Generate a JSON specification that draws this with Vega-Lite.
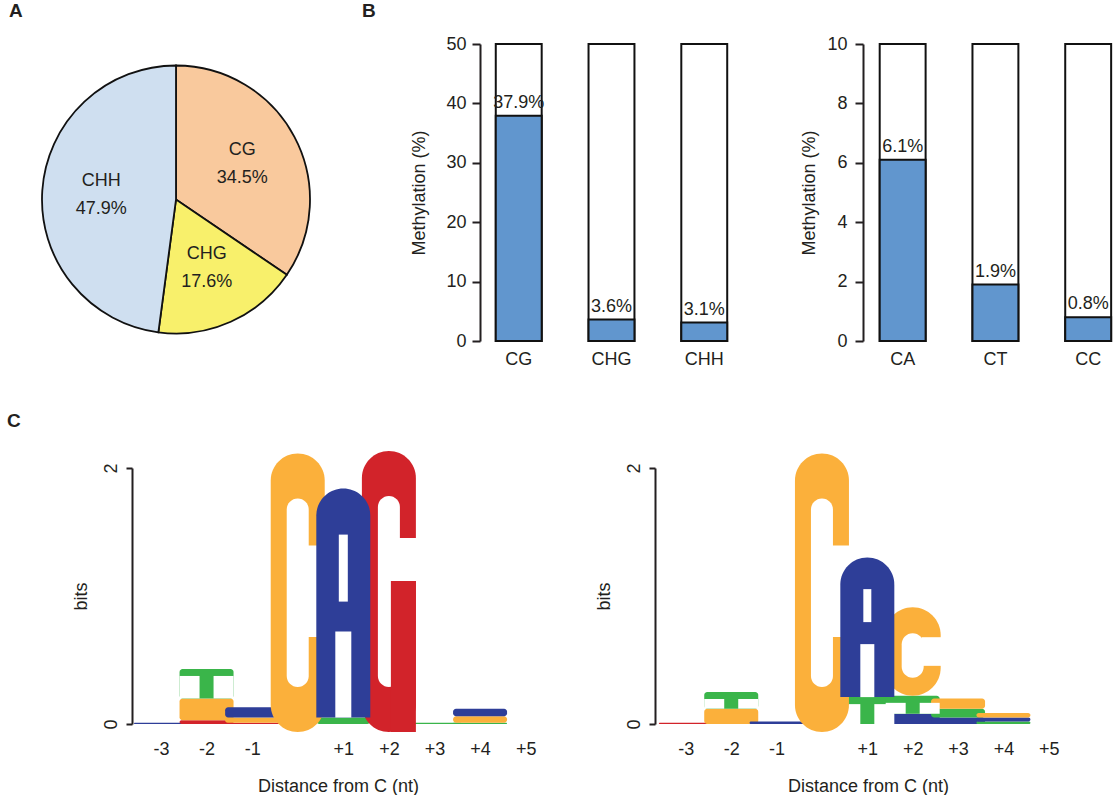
{
  "$schema": "https://vega.github.io/schema/vega-lite/v6.json",
  "padding": {"left": 7, "top": 2, "right": 0, "bottom": 0},
  "background": "white",
  "config": {
    "font": "Liberation Sans",
    "view": {"stroke": null},
    "legend": {"disable": true},
    "axis": {"labelFont": "Liberation Sans", "titleFont": "Liberation Sans", "labelFontSize": 18, "titleFontSize": 18, "titleFontWeight": "normal", "labelColor": "#231f20", "titleColor": "#231f20", "domainColor": "#231f20", "tickColor": "#231f20", "grid": false},
    "title": {"font": "Liberation Sans", "fontSize": 19, "fontWeight": "bold", "anchor": "start", "color": "#231f20", "frame": "group"},
    "text": {"font": "Liberation Sans", "fontSize": 18, "color": "#231f20"}
  },
  "columns": 1,
  "spacing": 44,
  "concat": [
    {
      "spacing": 48,
      "hconcat": [
        {
          "width": 268, "height": 311,
          "title": {"text": "A", "dx": -33, "offset": 23},
          "data": {"values": [
            {"context": "CG", "pct": 34.5, "label": "CG\n34.5%"},
            {"context": "CHG", "pct": 17.6, "label": "CHG\n17.6%"},
            {"context": "CHH", "pct": 47.9, "label": "CHH\n47.9%"}
          ]},
          "encoding": {
            "theta": {"field": "pct", "type": "quantitative", "stack": true},
            "order": {"field": "context", "sort": "ascending"}
          },
          "layer": [
            {"mark": {"type": "arc", "radius": 134, "stroke": "#111111", "strokeWidth": 1.8},
             "encoding": {"color": {"field": "context", "type": "nominal", "scale": {"domain": ["CG", "CHG", "CHH"], "range": ["#f9c99d", "#f8f06b", "#cfdff0"]}, "legend": null}}},
            {"mark": {"type": "text", "radius": 75, "fontSize": 18, "lineBreak": "\n", "lineHeight": 28, "align": "center", "baseline": "middle", "dy": -14},
             "encoding": {"text": {"field": "label", "type": "nominal"}}}
          ]
        },
        {
          "spacing": 70,
          "hconcat": [
            {
              "width": 250, "height": 297,
              "title": {"text": "B", "dx": -118, "offset": 14},
              "data": {"values": [
                {"context": "CG", "meth": 37.9, "label": "37.9%"},
                {"context": "CHG", "meth": 3.6, "label": "3.6%"},
                {"context": "CHH", "meth": 3.1, "label": "3.1%"}
              ]},
              "encoding": {
                "x": {"field": "context", "type": "nominal", "sort": null, "scale": {"paddingInner": 0.505, "paddingOuter": 0.1, "align": 0.85}, "axis": {"title": null, "domain": false, "ticks": false, "labelAngle": 0, "labelPadding": 9}}
              },
              "layer": [
                {"mark": {"type": "bar", "fill": "white", "stroke": "#111111", "strokeWidth": 2},
                 "encoding": {"y": {"datum": 50, "type": "quantitative", "scale": {"domain": [0, 50], "nice": false}, "axis": {"title": "Methylation (%)", "values": [0, 10, 20, 30, 40, 50], "domainWidth": 2, "tickWidth": 2, "tickSize": 8, "labelPadding": 6, "titlePadding": 17}}}},
                {"mark": {"type": "bar", "fill": "#6196ce", "stroke": "#111111", "strokeWidth": 2},
                 "encoding": {"y": {"field": "meth", "type": "quantitative"}}},
                {"mark": {"type": "text", "baseline": "alphabetic", "dy": -8, "fontSize": 18},
                 "encoding": {"y": {"field": "meth", "type": "quantitative"}, "text": {"field": "label", "type": "nominal"}}}
              ]
            },
            {
              "width": 250, "height": 297,
              "data": {"values": [
                {"context": "CA", "meth": 6.1, "label": "6.1%"},
                {"context": "CT", "meth": 1.9, "label": "1.9%"},
                {"context": "CC", "meth": 0.8, "label": "0.8%"}
              ]},
              "encoding": {
                "x": {"field": "context", "type": "nominal", "sort": null, "scale": {"paddingInner": 0.505, "paddingOuter": 0.1, "align": 0.9}, "axis": {"title": null, "domain": false, "ticks": false, "labelAngle": 0, "labelPadding": 9}}
              },
              "layer": [
                {"mark": {"type": "bar", "fill": "white", "stroke": "#111111", "strokeWidth": 2},
                 "encoding": {"y": {"datum": 10, "type": "quantitative", "scale": {"domain": [0, 10], "nice": false}, "axis": {"title": "Methylation (%)", "values": [0, 2, 4, 6, 8, 10], "domainWidth": 2, "tickWidth": 2, "tickSize": 8, "labelPadding": 8, "titlePadding": 8}}}},
                {"mark": {"type": "bar", "fill": "#6196ce", "stroke": "#111111", "strokeWidth": 2},
                 "encoding": {"y": {"field": "meth", "type": "quantitative"}}},
                {"mark": {"type": "text", "baseline": "alphabetic", "dy": -8, "fontSize": 18},
                 "encoding": {"y": {"field": "meth", "type": "quantitative"}, "text": {"field": "label", "type": "nominal"}}}
              ]
            }
          ]
        }
      ]
    },
    {
      "spacing": 37,
      "hconcat": [
        {
          "width": 516, "height": 256,
          "title": {"text": "C", "dx": -35, "offset": 20},
          "data": {"values": [
            {"pos": -3, "letter": "A", "bits": 0.01},
            {"pos": -2, "letter": "G", "bits": 0.03},
            {"pos": -2, "letter": "C", "bits": 0.17},
            {"pos": -2, "letter": "T", "bits": 0.23},
            {"pos": -1, "letter": "G", "bits": 0.01},
            {"pos": -1, "letter": "C", "bits": 0.04},
            {"pos": -1, "letter": "A", "bits": 0.08},
            {"pos": 0, "letter": "C", "bits": 2.05},
            {"pos": 1, "letter": "T", "bits": 0.05},
            {"pos": 1, "letter": "A", "bits": 1.79},
            {"pos": 2, "letter": "G", "bits": 2.07},
            {"pos": 3, "letter": "T", "bits": 0.01},
            {"pos": 4, "letter": "T", "bits": 0.01},
            {"pos": 4, "letter": "C", "bits": 0.05},
            {"pos": 4, "letter": "A", "bits": 0.06}
          ]},
          "transform": [{"stack": "bits", "groupby": ["pos"], "sort": [{"field": "bits", "order": "ascending"}], "as": ["b0", "b1"]}],
          "encoding": {
            "x": {"field": "pos", "type": "quantitative", "scale": {"domain": [-5.5, 5.6], "nice": false, "zero": false}, "axis": {"values": [-3, -2, -1, 1, 2, 3, 4, 5], "labelExpr": "datum.value > 0 ? '+' + datum.value : '' + datum.value", "domain": false, "ticks": false, "title": "Distance from C (nt)", "titleX": 296, "labelPadding": 16, "titlePadding": 19, "labelFlush": false}}
          },
          "layer": [
            {"transform": [{"filter": "datum.bits < 0.5"}],
             "mark": {"type": "bar", "width": 54, "cornerRadius": 3},
             "encoding": {
               "y": {"field": "b1", "type": "quantitative", "scale": {"domain": [0, 2], "nice": false}, "axis": {"values": [0, 1, 2], "format": "d", "labelAngle": -90, "title": "bits", "offset": -90, "domainWidth": 2, "tickWidth": 2, "tickSize": 6, "labelPadding": 6, "titlePadding": 12}},
               "y2": {"field": "b0"},
               "fill": {"field": "letter", "type": "nominal", "scale": {"domain": ["A", "C", "G", "T"], "range": ["#2e3e98", "#fbb03b", "#d2232a", "#3ab54a"]}, "legend": null}
             }},
            {"transform": [{"filter": "datum.letter == 'T' && datum.bits >= 0.1"}],
             "mark": {"type": "bar", "width": 20, "xOffset": -17, "yOffset": 7, "fill": "white"},
             "encoding": {"y": {"field": "b1", "type": "quantitative"}, "y2": {"field": "b0"}}},
            {"transform": [{"filter": "datum.letter == 'T' && datum.bits >= 0.1"}],
             "mark": {"type": "bar", "width": 20, "xOffset": 17, "yOffset": 7, "fill": "white"},
             "encoding": {"y": {"field": "b1", "type": "quantitative"}, "y2": {"field": "b0"}}},
            {"transform": [{"filter": "datum.bits >= 1.5 && (datum.letter == 'C' || datum.letter == 'G')"}],
             "mark": {"type": "bar", "width": 54, "cornerRadius": 27, "yOffset": -8, "y2Offset": 8},
             "encoding": {"y": {"field": "b1", "type": "quantitative"}, "y2": {"field": "b0"}, "fill": {"field": "letter", "type": "nominal", "legend": null}}},
            {"transform": [{"filter": "datum.bits >= 1.5 && (datum.letter == 'C' || datum.letter == 'G')"}],
             "mark": {"type": "bar", "width": 22, "cornerRadius": 11, "yOffset": 37, "y2Offset": -37, "fill": "white"},
             "encoding": {"y": {"field": "b1", "type": "quantitative"}, "y2": {"field": "b0"}}},
            {"transform": [{"filter": "datum.bits >= 1.5 && datum.letter == 'C'"}],
             "mark": {"type": "bar", "width": 20, "xOffset": 19, "yOffset": 84, "y2Offset": -87, "fill": "white"},
             "encoding": {"y": {"field": "b1", "type": "quantitative"}, "y2": {"field": "b0"}}},
            {"transform": [{"filter": "datum.bits >= 0.5 && datum.letter == 'G'"}],
             "mark": {"type": "bar", "width": 20, "xOffset": 19, "yOffset": 79, "y2Offset": 122, "fill": "white"},
             "encoding": {"y": {"field": "b1", "type": "quantitative"}, "y2": {"field": "b1"}}},
            {"transform": [{"filter": "datum.bits >= 0.5 && datum.letter == 'G'"}],
             "mark": {"type": "bar", "width": 25, "xOffset": 14.5, "yOffset": 122, "y2Offset": 8, "fill": "#d2232a"},
             "encoding": {"y": {"field": "b1", "type": "quantitative"}, "y2": {"field": "b0"}}},
            {"transform": [{"filter": "datum.bits >= 0.5 && datum.letter == 'A'"}],
             "mark": {"type": "bar", "width": 54, "cornerRadiusTopLeft": 27, "cornerRadiusTopRight": 27},
             "encoding": {"y": {"field": "b1", "type": "quantitative"}, "y2": {"field": "b0"}, "fill": {"field": "letter", "type": "nominal", "legend": null}}},
            {"transform": [{"filter": "datum.bits >= 1.5 && datum.letter == 'A'"}],
             "mark": {"type": "bar", "width": 16, "yOffset": -86, "fill": "white"},
             "encoding": {"y": {"field": "b0", "type": "quantitative"}, "y2": {"field": "b0"}}},
            {"transform": [{"filter": "datum.bits >= 1.5 && datum.letter == 'A'"}],
             "mark": {"type": "bar", "width": 9, "yOffset": -183, "y2Offset": -116, "fill": "white"},
             "encoding": {"y": {"field": "b0", "type": "quantitative"}, "y2": {"field": "b0"}}},
            {"data": {"values": [{"name": "CHG"}]},
             "mark": {"type": "text", "align": "left", "baseline": "middle", "fontSize": 18},
             "encoding": {"x": {"datum": -3.17}, "y": {"datum": 1.88}, "text": {"field": "name", "type": "nominal"}}}
          ]
        },
        {
          "width": 426, "height": 256,
          "data": {"values": [
            {"pos": -3, "letter": "G", "bits": 0.01},
            {"pos": -2, "letter": "C", "bits": 0.12},
            {"pos": -2, "letter": "T", "bits": 0.13},
            {"pos": -1, "letter": "A", "bits": 0.02},
            {"pos": 0, "letter": "C", "bits": 2.05},
            {"pos": 1, "letter": "T", "bits": 0.21},
            {"pos": 1, "letter": "A", "bits": 1.09},
            {"pos": 2, "letter": "A", "bits": 0.08},
            {"pos": 2, "letter": "T", "bits": 0.14},
            {"pos": 2, "letter": "C", "bits": 0.63},
            {"pos": 3, "letter": "A", "bits": 0.05},
            {"pos": 3, "letter": "T", "bits": 0.07},
            {"pos": 3, "letter": "C", "bits": 0.08},
            {"pos": 4, "letter": "T", "bits": 0.02},
            {"pos": 4, "letter": "A", "bits": 0.03},
            {"pos": 4, "letter": "C", "bits": 0.035}
          ]},
          "transform": [{"stack": "bits", "groupby": ["pos"], "sort": [{"field": "bits", "order": "ascending"}], "as": ["b0", "b1"]}],
          "encoding": {
            "x": {"field": "pos", "type": "quantitative", "scale": {"domain": [-3.57, 5.6], "nice": false, "zero": false}, "axis": {"values": [-3, -2, -1, 1, 2, 3, 4, 5], "labelExpr": "datum.value > 0 ? '+' + datum.value : '' + datum.value", "domain": false, "ticks": false, "title": "Distance from C (nt)", "labelPadding": 16, "titlePadding": 19, "labelFlush": false}}
          },
          "layer": [
            {"transform": [{"filter": "datum.bits < 0.5"}],
             "mark": {"type": "bar", "width": 54, "cornerRadius": 3},
             "encoding": {
               "y": {"field": "b1", "type": "quantitative", "scale": {"domain": [0, 2], "nice": false}, "axis": {"values": [0, 1, 2], "format": "d", "labelAngle": -90, "title": "bits", "domainWidth": 2, "tickWidth": 2, "tickSize": 6, "labelPadding": 6, "titlePadding": 12}},
               "y2": {"field": "b0"},
               "fill": {"field": "letter", "type": "nominal", "scale": {"domain": ["A", "C", "G", "T"], "range": ["#2e3e98", "#fbb03b", "#d2232a", "#3ab54a"]}, "legend": null}
             }},
            {"transform": [{"filter": "datum.letter == 'T' && datum.bits >= 0.1"}],
             "mark": {"type": "bar", "width": 20, "xOffset": -17, "yOffset": 7, "fill": "white"},
             "encoding": {"y": {"field": "b1", "type": "quantitative"}, "y2": {"field": "b0"}}},
            {"transform": [{"filter": "datum.letter == 'T' && datum.bits >= 0.1"}],
             "mark": {"type": "bar", "width": 20, "xOffset": 17, "yOffset": 7, "fill": "white"},
             "encoding": {"y": {"field": "b1", "type": "quantitative"}, "y2": {"field": "b0"}}},
            {"transform": [{"filter": "datum.bits >= 1.5 && (datum.letter == 'C' || datum.letter == 'G')"}],
             "mark": {"type": "bar", "width": 54, "cornerRadius": 27, "yOffset": -8, "y2Offset": 8},
             "encoding": {"y": {"field": "b1", "type": "quantitative"}, "y2": {"field": "b0"}, "fill": {"field": "letter", "type": "nominal", "legend": null}}},
            {"transform": [{"filter": "datum.bits >= 1.5 && (datum.letter == 'C' || datum.letter == 'G')"}],
             "mark": {"type": "bar", "width": 22, "cornerRadius": 11, "yOffset": 37, "y2Offset": -37, "fill": "white"},
             "encoding": {"y": {"field": "b1", "type": "quantitative"}, "y2": {"field": "b0"}}},
            {"transform": [{"filter": "datum.bits >= 1.5 && datum.letter == 'C'"}],
             "mark": {"type": "bar", "width": 20, "xOffset": 19, "yOffset": 84, "y2Offset": -87, "fill": "white"},
             "encoding": {"y": {"field": "b1", "type": "quantitative"}, "y2": {"field": "b0"}}},
            {"transform": [{"filter": "datum.bits >= 0.5 && datum.bits < 1.5 && datum.letter == 'C'"}],
             "mark": {"type": "bar", "width": 56, "cornerRadius": 28, "yOffset": -8},
             "encoding": {"y": {"field": "b1", "type": "quantitative"}, "y2": {"field": "b0"}, "fill": {"field": "letter", "type": "nominal", "legend": null}}},
            {"transform": [{"filter": "datum.bits >= 0.5 && datum.bits < 1.5 && datum.letter == 'C'"}],
             "mark": {"type": "bar", "width": 22, "cornerRadius": 11, "yOffset": 18, "y2Offset": -18, "fill": "white"},
             "encoding": {"y": {"field": "b1", "type": "quantitative"}, "y2": {"field": "b0"}}},
            {"transform": [{"filter": "datum.bits >= 0.5 && datum.bits < 1.5 && datum.letter == 'C'"}],
             "mark": {"type": "bar", "width": 20, "xOffset": 19, "yOffset": 22, "y2Offset": -30, "fill": "white"},
             "encoding": {"y": {"field": "b1", "type": "quantitative"}, "y2": {"field": "b0"}}},
            {"transform": [{"filter": "datum.bits >= 0.5 && datum.letter == 'A'"}],
             "mark": {"type": "bar", "width": 54, "cornerRadiusTopLeft": 27, "cornerRadiusTopRight": 27},
             "encoding": {"y": {"field": "b1", "type": "quantitative"}, "y2": {"field": "b0"}, "fill": {"field": "letter", "type": "nominal", "legend": null}}},
            {"transform": [{"filter": "datum.bits >= 0.5 && datum.bits < 1.5 && datum.letter == 'A'"}],
             "mark": {"type": "bar", "width": 14, "yOffset": -53, "fill": "white"},
             "encoding": {"y": {"field": "b0", "type": "quantitative"}, "y2": {"field": "b0"}}},
            {"transform": [{"filter": "datum.bits >= 0.5 && datum.bits < 1.5 && datum.letter == 'A'"}],
             "mark": {"type": "bar", "width": 8, "yOffset": -108, "y2Offset": -75, "fill": "white"},
             "encoding": {"y": {"field": "b0", "type": "quantitative"}, "y2": {"field": "b0"}}},
            {"data": {"values": [{"name": "CHH"}]},
             "mark": {"type": "text", "align": "left", "baseline": "middle", "fontSize": 18},
             "encoding": {"x": {"datum": -3.17}, "y": {"datum": 1.88}, "text": {"field": "name", "type": "nominal"}}}
          ]
        }
      ]
    }
  ]
}
